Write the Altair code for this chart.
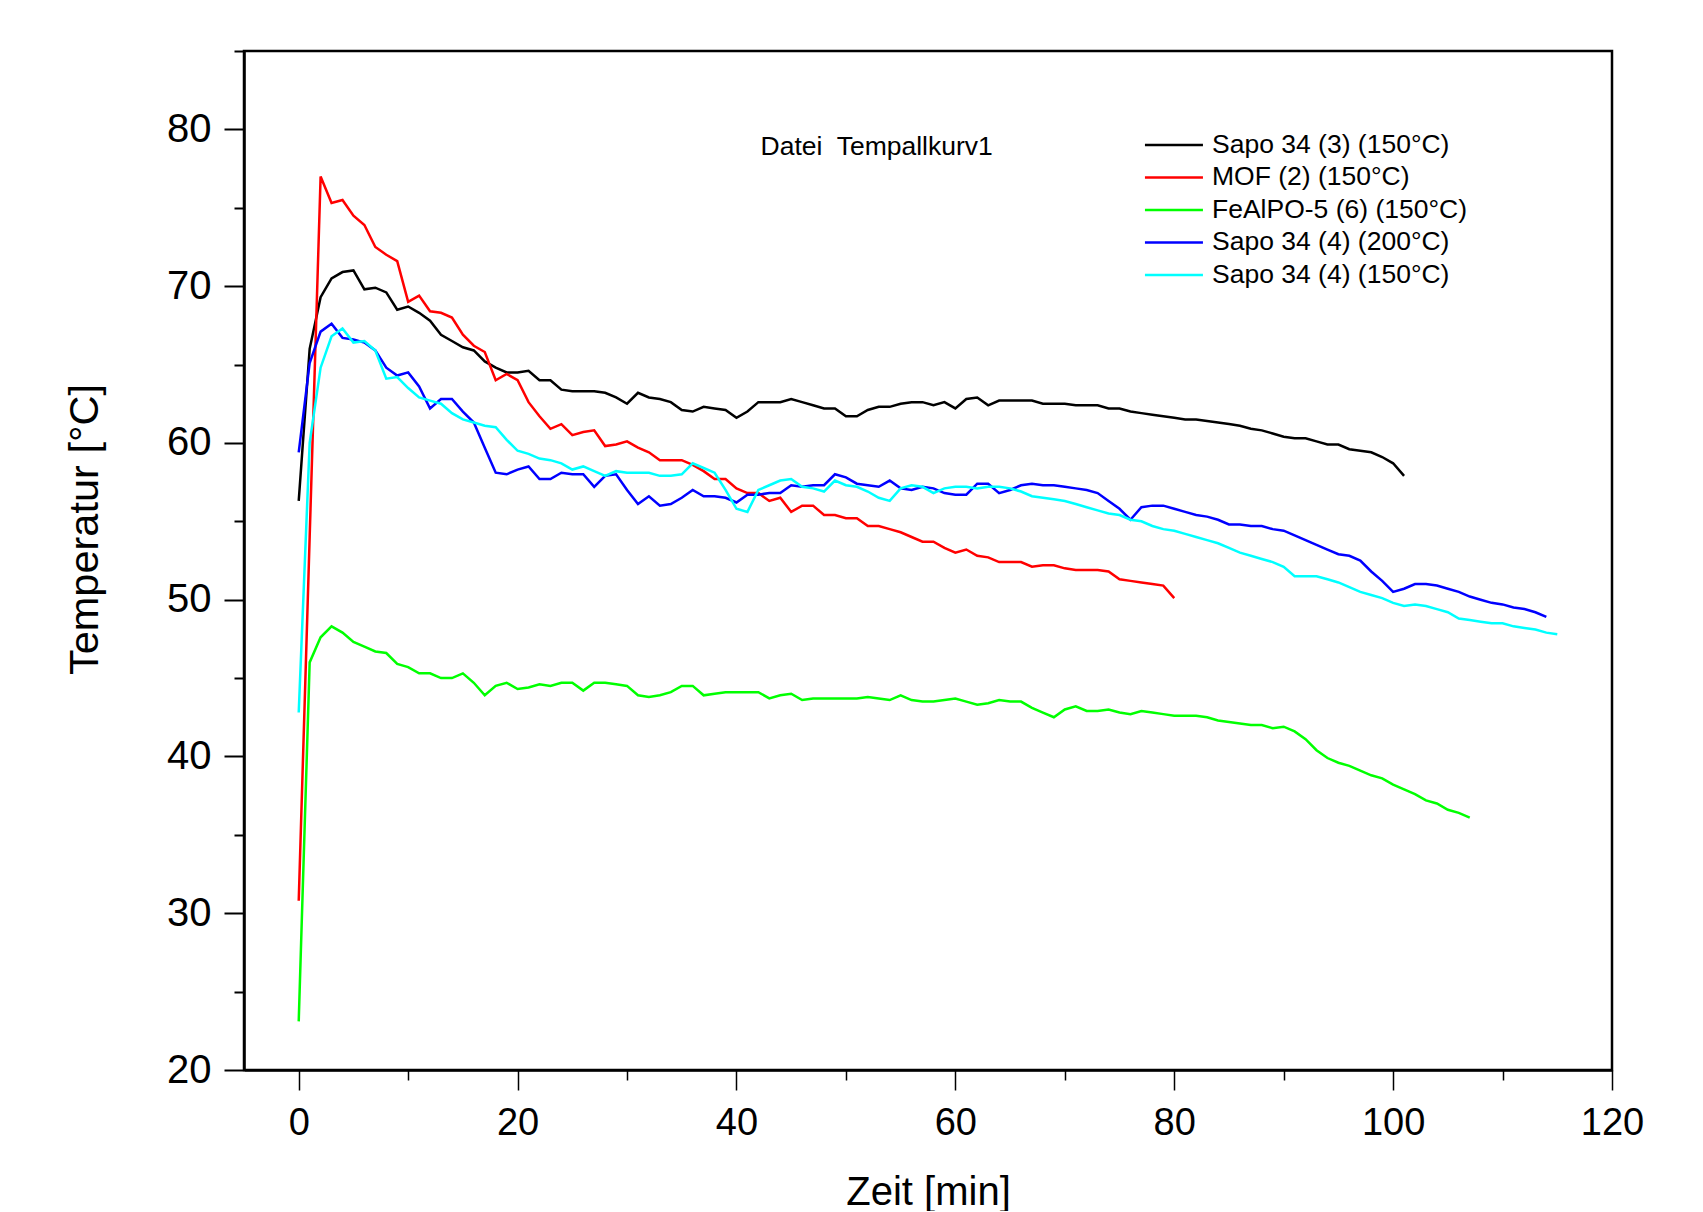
import altair as alt
import pandas as pd

# ---- data (one value per minute) ----
series_names = [
    "Sapo 34 (3) (150°C)",
    "MOF (2) (150°C)",
    "FeAlPO-5 (6) (150°C)",
    "Sapo 34 (4) (200°C)",
    "Sapo 34 (4) (150°C)",
]
series_colors = ["#000000", "#ff0000", "#00ff00", "#0000ff", "#00ffff"]

sapo34_3_150 = [
    56.3, 66.0, 69.3, 70.5, 70.9, 71.0, 69.8, 69.9, 69.6, 68.5,
    68.7, 68.3, 67.8, 66.9, 66.5, 66.1, 65.9, 65.2, 64.8, 64.5,
    64.5, 64.6, 64.0, 64.0, 63.4, 63.3, 63.3, 63.3, 63.2, 62.9,
    62.5, 63.2, 62.9, 62.8, 62.6, 62.1, 62.0, 62.3, 62.2, 62.1,
    61.6, 62.0, 62.6, 62.6, 62.6, 62.8, 62.6, 62.4, 62.2, 62.2,
    61.7, 61.7, 62.1, 62.3, 62.3, 62.5, 62.6, 62.6, 62.4, 62.6,
    62.2, 62.8, 62.9, 62.4, 62.7, 62.7, 62.7, 62.7, 62.5, 62.5,
    62.5, 62.4, 62.4, 62.4, 62.2, 62.2, 62.0, 61.9, 61.8, 61.7,
    61.6, 61.5, 61.5, 61.4, 61.3, 61.2, 61.1, 60.9, 60.8, 60.6,
    60.4, 60.3, 60.3, 60.1, 59.9, 59.9, 59.6, 59.5, 59.4, 59.1,
    58.7, 57.9,
]
mof_2_150 = [
    30.8, 54.0, 77.0, 75.3, 75.5, 74.5, 73.9, 72.5, 72.0, 71.6,
    69.0, 69.4, 68.4, 68.3, 68.0, 66.9, 66.2, 65.8, 64.0, 64.4,
    64.0, 62.6, 61.7, 60.9, 61.2, 60.5, 60.7, 60.8, 59.8, 59.9,
    60.1, 59.7, 59.4, 58.9, 58.9, 58.9, 58.6, 58.2, 57.7, 57.7,
    57.1, 56.8, 56.8, 56.3, 56.5, 55.6, 56.0, 56.0, 55.4, 55.4,
    55.2, 55.2, 54.7, 54.7, 54.5, 54.3, 54.0, 53.7, 53.7, 53.3,
    53.0, 53.2, 52.8, 52.7, 52.4, 52.4, 52.4, 52.1, 52.2, 52.2,
    52.0, 51.9, 51.9, 51.9, 51.8, 51.3, 51.2, 51.1, 51.0, 50.9,
    50.1,
]
fealpo5_6_150 = [
    23.1, 46.0, 47.6, 48.3, 47.9, 47.3, 47.0, 46.7, 46.6, 45.9,
    45.7, 45.3, 45.3, 45.0, 45.0, 45.3, 44.7, 43.9, 44.5, 44.7,
    44.3, 44.4, 44.6, 44.5, 44.7, 44.7, 44.2, 44.7, 44.7, 44.6,
    44.5, 43.9, 43.8, 43.9, 44.1, 44.5, 44.5, 43.9, 44.0, 44.1,
    44.1, 44.1, 44.1, 43.7, 43.9, 44.0, 43.6, 43.7, 43.7, 43.7,
    43.7, 43.7, 43.8, 43.7, 43.6, 43.9, 43.6, 43.5, 43.5, 43.6,
    43.7, 43.5, 43.3, 43.4, 43.6, 43.5, 43.5, 43.1, 42.8, 42.5,
    43.0, 43.2, 42.9, 42.9, 43.0, 42.8, 42.7, 42.9, 42.8, 42.7,
    42.6, 42.6, 42.6, 42.5, 42.3, 42.2, 42.1, 42.0, 42.0, 41.8,
    41.9, 41.6, 41.1, 40.4, 39.9, 39.6, 39.4, 39.1, 38.8, 38.6,
    38.2, 37.9, 37.6, 37.2, 37.0, 36.6, 36.4, 36.1,
]
sapo34_4_200 = [
    59.4, 65.1, 67.1, 67.6, 66.7, 66.6, 66.4, 65.9, 64.8, 64.3,
    64.5, 63.6, 62.2, 62.8, 62.8, 62.0, 61.3, 59.7, 58.1, 58.0,
    58.3, 58.5, 57.7, 57.7, 58.1, 58.0, 58.0, 57.2, 57.9, 58.0,
    57.0, 56.1, 56.6, 56.0, 56.1, 56.5, 57.0, 56.6, 56.6, 56.5,
    56.2, 56.7, 56.7, 56.8, 56.8, 57.3, 57.2, 57.3, 57.3, 58.0,
    57.8, 57.4, 57.3, 57.2, 57.6, 57.1, 57.0, 57.2, 57.1, 56.8,
    56.7, 56.7, 57.4, 57.4, 56.8, 57.0, 57.3, 57.4, 57.3, 57.3,
    57.2, 57.1, 57.0, 56.8, 56.3, 55.8, 55.1, 55.9, 56.0, 56.0,
    55.8, 55.6, 55.4, 55.3, 55.1, 54.8, 54.8, 54.7, 54.7, 54.5,
    54.4, 54.1, 53.8, 53.5, 53.2, 52.9, 52.8, 52.5, 51.8, 51.2,
    50.5, 50.7, 51.0, 51.0, 50.9, 50.7, 50.5, 50.2, 50.0, 49.8,
    49.7, 49.5, 49.4, 49.2, 48.9,
]
sapo34_4_150 = [
    42.8, 60.0, 64.8, 66.8, 67.3, 66.4, 66.5, 65.9, 64.1, 64.2,
    63.5, 62.9, 62.7, 62.5, 61.9, 61.5, 61.3, 61.1, 61.0, 60.2,
    59.5, 59.3, 59.0, 58.9, 58.7, 58.3, 58.5, 58.2, 57.9, 58.2,
    58.1, 58.1, 58.1, 57.9, 57.9, 58.0, 58.7, 58.4, 58.1, 57.0,
    55.8, 55.6, 57.0, 57.3, 57.6, 57.7, 57.2, 57.1, 56.9, 57.6,
    57.3, 57.2, 56.9, 56.5, 56.3, 57.1, 57.3, 57.2, 56.8, 57.1,
    57.2, 57.2, 57.1, 57.2, 57.2, 57.1, 56.9, 56.6, 56.5, 56.4,
    56.3, 56.1, 55.9, 55.7, 55.5, 55.4, 55.1, 55.0, 54.7, 54.5,
    54.4, 54.2, 54.0, 53.8, 53.6, 53.3, 53.0, 52.8, 52.6, 52.4,
    52.1, 51.5, 51.5, 51.5, 51.3, 51.1, 50.8, 50.5, 50.3, 50.1,
    49.8, 49.6, 49.7, 49.6, 49.4, 49.2, 48.8, 48.7, 48.6, 48.5,
    48.5, 48.3, 48.2, 48.1, 47.9, 47.8,
]
series_values = [sapo34_3_150, mof_2_150, fealpo5_6_150, sapo34_4_200, sapo34_4_150]

x_tick_values = list(range(0, 121, 10))
y_tick_values = list(range(20, 86, 5))
note_text = ["Datei\u00a0 Tempallkurv1"]
note_x = [42.2]
note_y = [78.85]

# ---- tables built from the arrays ----
rows = []
for k, (name, vals) in enumerate(zip(series_names, series_values)):
    for i, v in enumerate(vals):
        rows.append({"Zeit": i, "Temp": v, "Probe": name, "k": k})
df = pd.DataFrame(rows)
df_note = pd.DataFrame({"Zeit": note_x, "Temp": note_y, "label": note_text})

FONT = "Liberation Sans"

x_scale = alt.Scale(domain=[-5, 120], nice=False, zero=False)
y_scale = alt.Scale(domain=[20, 85], nice=False, zero=False)

x_axis = alt.Axis(
    values=x_tick_values,
    labelExpr="datum.value % 20 === 0 ? datum.label : ''",
    tickSize={"condition": {"test": "datum.value % 20 === 0", "value": 20}, "value": 10},
    tickWidth=1.5,
    tickColor="black",
    domainColor="black",
    domainWidth=2.5,
    grid=False,
    labelFont=FONT,
    labelFontSize=38,
    labelColor="black",
    labelPadding=14,
    labelFlush=False,
    labelOverlap=False,
    titleFont=FONT,
    titleFontSize=40,
    titleFontWeight="normal",
    titleColor="black",
    titleY=102,
)
y_axis = alt.Axis(
    values=y_tick_values,
    labelExpr="datum.value % 10 === 0 ? datum.label : ''",
    tickSize={"condition": {"test": "datum.value % 10 === 0", "value": 20}, "value": 10},
    tickWidth=2,
    tickColor="black",
    domainColor="black",
    domainWidth=2.5,
    grid=False,
    labelFont=FONT,
    labelFontSize=40,
    labelColor="black",
    labelPadding=13,
    labelFlush=False,
    labelOverlap=False,
    titleFont=FONT,
    titleFontSize=41.5,
    titleFontWeight="normal",
    titleColor="black",
    titleX=-138,
    titleY=478,
)

lines = alt.Chart(df).mark_line(strokeWidth=2.5, clip=True).encode(
    x=alt.X("Zeit:Q", scale=x_scale, axis=x_axis, title="Zeit [min]"),
    y=alt.Y("Temp:Q", scale=y_scale, axis=y_axis, title="Temperatur [°C]"),
    color=alt.Color(
        "Probe:N",
        scale=alt.Scale(domain=series_names, range=series_colors),
        legend=alt.Legend(
            orient="none",
            legendX=916.7,
            legendY=80.7,
            title=None,
            symbolType="M-3.625,0L3.625,0",
            symbolSize=256,
            symbolStrokeWidth=2.5,
            symbolFillColor="transparent",
            labelFont=FONT,
            labelFontSize=26.5,
            labelColor="black",
            labelOffset=24.8,
            labelLimit=600,
            rowPadding=5.5,
            padding=0,
        ),
    ),
    detail="k:N",
    order="Zeit:Q",
)

note = alt.Chart(df_note).mark_text(
    align="left", baseline="middle", font=FONT, fontSize=26.5, color="black"
).encode(
    x=alt.X("Zeit:Q", scale=x_scale),
    y=alt.Y("Temp:Q", scale=y_scale),
    text="label:N",
)

chart = (
    alt.layer(lines, note)
    .properties(
        width=1368,
        height=1019,
        padding={"left": 236, "top": 43, "right": 80, "bottom": 141},
        autosize=alt.AutoSizeParams(type="none"),
        background="white",
    )
    .configure_view(stroke="black", strokeWidth=2.5)
)

chart.save("out.html", embed_options={"renderer": "svg", "actions": False})
